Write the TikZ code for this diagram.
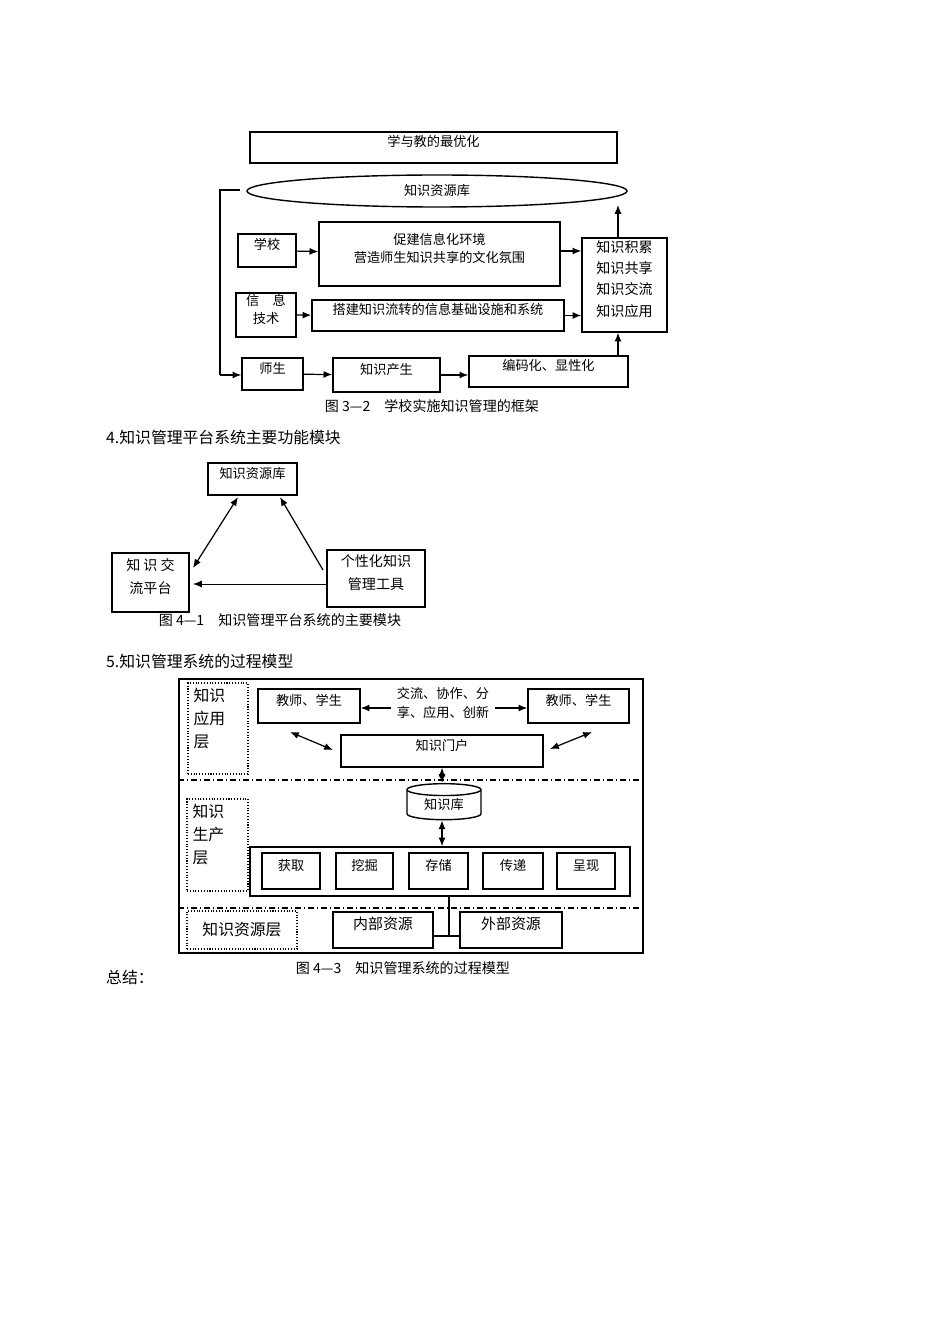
\documentclass[tikz,border=0pt]{standalone}
\usepackage{fontspec}
\setmainfont{Noto Sans CJK SC}
\usepackage{tikz}
\usetikzlibrary{fit}
\usetikzlibrary{shapes.geometric}
\usetikzlibrary{arrows.meta}

\tikzset{
  box/.style={draw, line width=0.8pt, inner sep=0pt, align=center, font=\fontsize{7.5}{10}\selectfont},
  dbox/.style={draw, densely dotted, line width=0.6pt, inner sep=0pt, align=center, font=\fontsize{9}{13}\selectfont},
  arr/.style={-{Latex[length=5pt,width=4pt]}, line width=0.7pt},
  darr/.style={{Latex[length=5pt,width=4pt]}-{Latex[length=5pt,width=4pt]}, line width=0.7pt},
  figcap/.style={font=\fontsize{8}{10}\selectfont},
  head/.style={anchor=west, font=\fontsize{9}{11}\selectfont}
}

\begin{document}
\begin{tikzpicture}[x=0.02cm,y=-0.02cm]
  \useasboundingbox[fill=white] (0,0) rectangle (950,1344);

  % figure 3-2
  \node[box, fit={(250,132) (617,163)}] (best) {学与教的最优化};
  \node[box, ellipse, minimum width=380*0.02cm, minimum height=32*0.02cm] (kres) at (437,191) {知识资源库};
  \node[box, fit={(238,234) (296,267)}] (school) {学校};
  \node[box, fit={(319,222) (560,286)}] (env) {促建信息化环境\\营造师生知识共享的文化氛围};
  \node[box, fit={(236,293) (296,337)}] (it) {信　息\\技术};
  \node[box, fit={(312,300) (564,331)}] (infra) {搭建知识流转的信息基础设施和系统};
  \node[box, fit={(582,238) (667,332)}, font=\fontsize{8}{12}\selectfont] (acc) {知识积累\\知识共享\\知识交流\\知识应用};
  \node[box, fit={(242,358) (303,390)}] (ts) {师生};
  \node[box, fit={(333,358) (440,392)}] (prod) {知识产生};
  \node[box, fit={(469,356) (628,387)}] (code) {编码化、显性化};
  \coordinate (top1) at (618,205);
  \coordinate (lA) at (240,190);
  \coordinate (lB) at (220,190);
  \coordinate (lC) at (220,375);

  \draw[arr] (school) -- (env);
  \draw[arr] (it) -- (infra);
  \draw[arr] (env.east |- 0,251) -- (acc.west |- 0,251);
  \draw[arr] (infra) -- (infra -| acc.west);
  \draw[arr] (acc.north -| top1) -- (top1);
  \draw[arr] (code.north -| top1) -- (acc.south -| top1);
  \draw[line width=0.7pt] (lA) -- (lB) -- (lC);
  \draw[arr] (lC) -- (lC -| ts.west);
  \draw[arr] (ts) -- (prod);
  \draw[arr] (prod) -- (prod -| code.west);
  \node[figcap] (cap1) at (432,406) {图 3—2　学校实施知识管理的框架};

  \node[head] (h4) at (100,437) {4.知识管理平台系统主要功能模块};

  % figure 4-1
  \node[box, fit={(208,463) (297,495)}] (lib) {知识资源库};
  \node[box, fit={(112,553) (189,612)}, font=\fontsize{8}{13}\selectfont] (xchg) {知 识 交\\流平台\ \ };
  \node[box, fit={(327,550) (425,607)}, font=\fontsize{8}{13}\selectfont] (tool) {个性化知识\\管理工具};
  \coordinate (l1) at (238,497);
  \coordinate (l2) at (280,497);
  \coordinate (x1) at (193,568);
  \coordinate (x2) at (193,584);
  \coordinate (t1) at (323,570);
  \draw[darr] (l1) -- (x1);
  \draw[arr] (t1) -- (l2);
  \draw[arr, line width=0.5pt] (tool.west |- x2) -- (x2);
  \node[figcap] (cap2) at (280,620) {图 4—1　知识管理平台系统的主要模块};

  \node[head] (h5) at (100,661) {5.知识管理系统的过程模型};

  % figure 4-3
  \node[draw, line width=0.8pt, fit={(179,679) (643,953)}, inner sep=0pt] (frame) {};
  \draw[dash dot, line width=0.6pt] (frame.west |- 0,780) -- (frame.east |- 0,780);
  \draw[dash dot, line width=0.6pt] (frame.west |- 0,908) -- (frame.east |- 0,908);
  \node[dbox, fit={(188,683) (248,774)}] (lapp) {};
  \node[dbox, fit={(187,799) (248,891)}] (lprod) {};
  \node[dbox, fit={(187,911) (297,949)}] (lres) {};
  \node[anchor=north west, align=left, font=\fontsize{9}{13}\selectfont] (tapp) at (lapp.north west) {知识\\应用\\层};
  \node[anchor=north west, align=left, font=\fontsize{9}{13}\selectfont] (tprod) at (lprod.north west) {知识\\生产\\层};
  \node[font=\fontsize{9}{11}\selectfont] (tres) at (lres) {知识资源层};
  \node[box, fit={(258,689) (360,723)}] (tsL) {教师、学生};
  \node[box, fit={(528,689) (629,723)}] (tsR) {教师、学生};
  \node[font=\fontsize{7.5}{11}\selectfont, align=center] (act) at (443,703) {交流、协作、分\\享、应用、创新};
  \node[box, fit={(341,735) (543,767)}] (portal) {知识门户};
  \node[box, cylinder, shape border rotate=90, aspect=0.3, minimum width=74*0.02cm, minimum height=36*0.02cm] (kdb) at (444,805) {知识库};
  \node[draw, line width=0.8pt, fit={(250,847) (630,896)}, inner sep=0pt] (proc) {};
  \node[box, fit={(262,853) (320,889)}] (p1) {获取};
  \node[box, fit={(336,853) (393,889)}] (p2) {挖掘};
  \node[box, fit={(409,853) (468,889)}] (p3) {存储};
  \node[box, fit={(483,853) (543,889)}] (p4) {传递};
  \node[box, fit={(557,853) (615,889)}] (p5) {呈现};
  \node[box, fit={(333,912) (433,948)}, font=\fontsize{8.5}{10}\selectfont] (inner) {内部资源};
  \node[box, fit={(460,912) (562,948)}, font=\fontsize{8.5}{10}\selectfont] (outer) {外部资源};
  \coordinate (a1) at (290,732);
  \coordinate (a2) at (333,750);
  \coordinate (a3) at (550,749);
  \coordinate (a4) at (592,732);
  \coordinate (j1) at (449,936);

  \draw[arr] (act.west |- 0,708) -- (tsL.east |- 0,708);
  \draw[arr] (act.east |- 0,708) -- (tsR.west |- 0,708);
  \draw[darr] (a1) -- (a2);
  \draw[darr] (a3) -- (a4);
  \draw[darr] (portal.south -| 442,0) -- (kdb.north -| 442,0);
  \draw[darr] (kdb.south -| 442,0) -- (proc.north -| 442,0);
  \draw[line width=0.6pt] (proc.south -| j1) -- (j1);
  \draw[line width=0.6pt] (j1 -| inner.east) -- (j1 -| outer.west);
  \node[figcap] (cap3) at (403,968) {图 4—3　知识管理系统的过程模型};

  \node[head] (sum) at (100,977) {总结：};
\end{tikzpicture}
\end{document}
